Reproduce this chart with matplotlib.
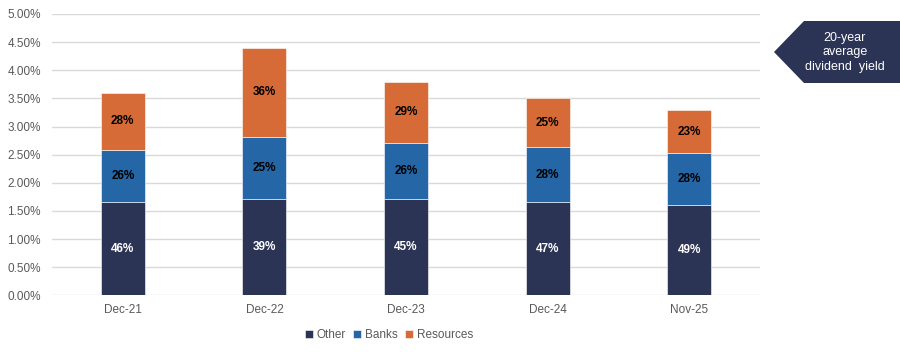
import matplotlib
matplotlib.use("Agg")
import matplotlib.pyplot as plt
from matplotlib.patches import Polygon
from matplotlib.ticker import FuncFormatter

categories = ["Dec-21", "Dec-22", "Dec-23", "Dec-24", "Nov-25"]
other = [1.65, 1.72, 1.71, 1.65, 1.61]
banks = [0.94, 1.10, 0.99, 0.98, 0.92]
resources = [1.01, 1.58, 1.10, 0.87, 0.76]
other_lbl = ["46%", "39%", "45%", "47%", "49%"]
banks_lbl = ["26%", "25%", "26%", "28%", "28%"]
res_lbl = ["28%", "36%", "29%", "25%", "23%"]
yticks = [0, 0.5, 1.0, 1.5, 2.0, 2.5, 3.0, 3.5, 4.0, 4.5, 5.0]

plt.rcParams['font.family'] = ['Liberation Sans', 'DejaVu Sans']

c_other = "#2B3454"
c_banks = "#2466A6"
c_res = "#D66B38"
gray = "#595959"

fig = plt.figure(figsize=(9, 3.52), dpi=100)
ax = fig.add_axes([52/900, 1-295.3/352, 708/900, (295.3-14)/352])

x = list(range(len(categories)))
w = 0.31
b1 = ax.bar(x, other, w, color=c_other, label="Other", zorder=3, edgecolor="white", linewidth=0.4)
b2 = ax.bar(x, banks, w, bottom=other, color=c_banks, label="Banks", zorder=3, edgecolor="white", linewidth=0.4)
bot3 = [o + b for o, b in zip(other, banks)]
b3 = ax.bar(x, resources, w, bottom=bot3, color=c_res, label="Resources", zorder=3, edgecolor="white", linewidth=0.4)

ax.bar_label(b1, labels=other_lbl, label_type="center", color="white", fontsize=8.5, fontweight="bold")
ax.bar_label(b2, labels=banks_lbl, label_type="center", color="black", fontsize=8.5, fontweight="bold")
ax.bar_label(b3, labels=res_lbl, label_type="center", color="black", fontsize=8.5, fontweight="bold")

ax.set_xlim(-0.5, 4.5)
ax.set_ylim(0, 5.0)
ax.set_yticks(yticks)
ax.yaxis.set_major_formatter(FuncFormatter(lambda v, p: f"{v:.2f}%"))
ax.set_xticks(x)
ax.set_xticklabels(categories)
ax.tick_params(axis="both", length=0, colors=gray, labelsize=8.5)
ax.tick_params(axis="y", pad=8)
ax.tick_params(axis="x", pad=6)
ax.grid(axis="y", color="#D9D9D9", linewidth=1, zorder=0)
for s in ["top", "right", "left", "bottom"]:
    ax.spines[s].set_visible(False)

leg = ax.legend(loc="upper center", bbox_to_anchor=(337/708, -0.083), ncol=3, frameon=False,
                fontsize=8.5, handlelength=0.7, handleheight=0.7, handletextpad=0.3, columnspacing=0.6,
                labelcolor=gray)

# Arrow label box
poly = Polygon([(774/900, 1-52/352), (804/900, 1-21/352), (900/900, 1-21/352),
                (900/900, 1-83/352), (804/900, 1-83/352)], closed=True,
               transform=fig.transFigure, facecolor=c_other, edgecolor="none")
fig.add_artist(poly)
fig.text(845/900, 1-52.5/352, "20-year\naverage\ndividend  yield", color="white", fontsize=9,
         ha="center", va="center", linespacing=1.3)

fig.savefig("out.png", dpi=100)
